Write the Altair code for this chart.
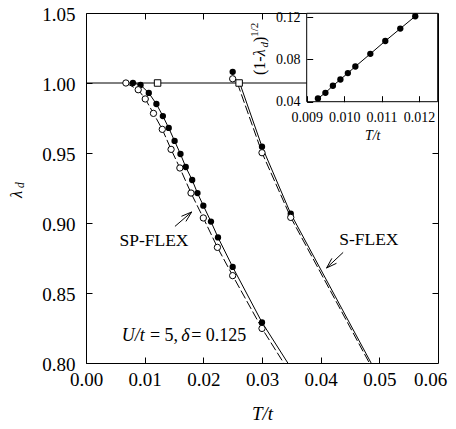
import altair as alt
import pandas as pd

FONT = "Liberation Serif"

# ---------------- data ----------------
# SP-FLEX, filled circles
sp_filled_T = [0.0080, 0.0093, 0.0107, 0.0120, 0.0131, 0.0141, 0.0151, 0.0161,
               0.0170, 0.0181, 0.0190, 0.0200, 0.0213, 0.0225, 0.0250, 0.0300]
sp_filled_L = [1.000, 0.9986, 0.9929, 0.9850, 0.9764, 0.9679, 0.9586, 0.9493,
               0.9400, 0.9307, 0.9214, 0.9124, 0.9010, 0.8897, 0.8686, 0.8290]
# SP-FLEX, open circles
sp_open_T = [0.0068, 0.0089, 0.0101, 0.0115, 0.0130, 0.0145, 0.0160, 0.0179,
             0.0200, 0.0224, 0.0250, 0.0300]
sp_open_L = [1.000, 0.9952, 0.9886, 0.9783, 0.9669, 0.9526, 0.9393, 0.9214,
             0.9036, 0.8826, 0.8624, 0.8247]
# S-FLEX points
s_filled_T = [0.0250, 0.0300, 0.0349]
s_filled_L = [1.008, 0.9545, 0.9066]
s_open_T = [0.0250, 0.0300, 0.0349]
s_open_L = [1.003, 0.9502, 0.9040]
# open squares on lambda = 1
square_T = [0.0122, 0.0261]
square_L = [1.000, 1.000]

# curves (solid through filled, dashed through open)
line_h_T = [0.0, 0.040]
line_h_L = [1.0, 1.0]
sp_solid_T = sp_filled_T + [0.0344]
sp_solid_L = sp_filled_L + [0.800]
sp_dash_T = sp_open_T + [0.0337]
sp_dash_L = sp_open_L + [0.800]
s_solid_T = [0.0262, 0.0300, 0.0349, 0.0486]
s_solid_L = [1.000, 0.9545, 0.9066, 0.800]
s_dash_T = [0.0258, 0.0300, 0.0349, 0.0483]
s_dash_L = [1.000, 0.9502, 0.9040, 0.800]

# inset: (1 - lambda_d)^(1/2) vs T/t
inset_T = [0.0093, 0.0095, 0.0097, 0.0099, 0.0101, 0.0103, 0.0107, 0.0111, 0.0115, 0.0119]
inset_Y = [0.0431, 0.0484, 0.0551, 0.0610, 0.0671, 0.0733, 0.0853, 0.0975, 0.1092, 0.1209]

# axes
x_domain = [0.0, 0.06]
y_domain = [0.80, 1.05]
x_ticks = [0.00, 0.01, 0.02, 0.03, 0.04, 0.05]
x_last_tick = [0.06]
y_ticks = [0.80, 0.85, 0.90, 0.95, 1.00, 1.05]
x_top_ticks = [0.01, 0.02, 0.03]
y_right_ticks = [0.85, 0.90, 0.95]
ix_domain = [0.009, 0.0125]
iy_domain = [0.040, 0.1237]
ix_ticks = [0.009, 0.010, 0.011, 0.012]
iy_ticks = [0.04, 0.08, 0.12]

# annotations (data coordinates)
labels_text = ["SP-FLEX", "S-FLEX"]
labels_T = [0.01158, 0.04821]
labels_L = [0.8874, 0.8881]
# arrows: shaft and two head strokes  (T1, L1) -> (T2, L2)
arrow_T1 = [0.015162, 0.018007, 0.018007, 0.043833, 0.041005, 0.041005]
arrow_L1 = [0.89757, 0.90786, 0.90786, 0.87900, 0.86786, 0.86786]
arrow_T2 = [0.018007, 0.016269, 0.017036, 0.041005, 0.042692, 0.041908]
arrow_L2 = [0.90786, 0.904786, 0.901143, 0.86786, 0.871214, 0.874714]

W, H = 352, 350
OX, OY = 86, 13          # page position of the plot area (for title glyph placement)

# ---------------- frames ----------------
pts = lambda T, L: pd.DataFrame({"T": T, "L": L})
solid_df = pd.concat([
    pd.DataFrame({"T": line_h_T, "L": line_h_L, "s": "h"}),
    pd.DataFrame({"T": sp_solid_T, "L": sp_solid_L, "s": "sp"}),
    pd.DataFrame({"T": s_solid_T, "L": s_solid_L, "s": "s"}),
])
dash_df = pd.concat([
    pd.DataFrame({"T": sp_dash_T, "L": sp_dash_L, "s": "sp"}),
    pd.DataFrame({"T": s_dash_T, "L": s_dash_L, "s": "s"}),
])
filled_df = pts(sp_filled_T + s_filled_T, sp_filled_L + s_filled_L)
open_df = pts(sp_open_T + s_open_T, sp_open_L + s_open_L)
square_df = pts(square_T, square_L)
arrow_df = pd.DataFrame({"T1": arrow_T1, "L1": arrow_L1, "T2": arrow_T2, "L2": arrow_L2})
label_df = pd.DataFrame({"t": labels_text, "T": labels_T, "L": labels_L})


def xs():
    return alt.Scale(domain=x_domain, nice=False, zero=False)


def ys():
    return alt.Scale(domain=y_domain, nice=False, zero=False)


def MX(field, axis=None):
    return alt.X(field, type="quantitative", scale=xs(), axis=axis)


def MY(field, axis=None):
    return alt.Y(field, type="quantitative", scale=ys(), axis=axis)


common_axis = dict(domain=False, grid=False, tickSize=6, tickColor="black", tickWidth=1,
                   labelFont=FONT, labelColor="black", labelFlush=False, labelOverlap=False)

ax_bottom = alt.Axis(orient="bottom", values=x_ticks, format=".2f", offset=-6,
                     labelFontSize=19, labelPadding=7, title="T/t", titleFont=FONT,
                     titleFontSize=19, titleFontStyle="italic", titleFontWeight="normal",
                     titleColor="black", titlePadding=15, titleX=W / 2, **common_axis)
# last bottom label kept inside the page edge
ax_bottom_last = alt.Axis(orient="bottom", values=x_last_tick, format=".2f", offset=-6,
                          labelFontSize=19, labelPadding=13, labelOffset=-8, ticks=False,
                          title=None, **common_axis)
ax_left = alt.Axis(orient="left", values=y_ticks, format=".2f", offset=-6, labelOffset=1.5,
                   labelFontSize=19, labelPadding=11, title=None, **common_axis)
ax_top = alt.Axis(orient="top", values=x_top_ticks, offset=-6, labels=False, title=None,
                  **common_axis)
ax_right = alt.Axis(orient="right", values=y_right_ticks, offset=-6, labels=False, title=None,
                    **common_axis)

solid = alt.Chart(solid_df).mark_line(color="black", strokeWidth=1, clip=True).encode(
    x=MX("T", ax_bottom), y=MY("L", ax_left), detail="s:N")
dashed = alt.Chart(dash_df).mark_line(color="black", strokeWidth=1, strokeDash=[9, 3], clip=True).encode(
    x=MX("T", ax_top), y=MY("L", ax_right), detail="s:N")
filled = alt.Chart(filled_df).mark_circle(color="black", size=40, opacity=1).encode(
    x=MX("T", ax_bottom_last), y=MY("L"))
opened = alt.Chart(open_df).mark_circle(fill="white", stroke="black", strokeWidth=1, size=40, opacity=1).encode(
    x=MX("T"), y=MY("L"))
squares = alt.Chart(square_df).mark_square(fill="white", stroke="black", strokeWidth=1, size=42, opacity=1).encode(
    x=MX("T"), y=MY("L"))
arrows = alt.Chart(arrow_df).mark_rule(color="black", strokeWidth=1).encode(
    x=MX("T1"), y=MY("L1"), x2="T2:Q", y2="L2:Q")
labels = alt.Chart(label_df).mark_text(font=FONT, fontSize=17.5, color="black", align="center",
                                       baseline="middle").encode(x=MX("T"), y=MY("L"), text="t:N")

# "U/t = 5, delta = 0.125" with italic symbols
note_T, note_L = 0.00608, 0.819
note_pieces = [("U/t", 0.0, "italic"), ("= 5,", 28.3, "normal"),
               ("δ", 59.5, "italic"), ("= 0.125", 69.5, "normal")]
notes = []
for txt, dx, style in note_pieces:
    notes.append(alt.Chart(pd.DataFrame({"t": [txt], "T": [note_T], "L": [note_L]})).mark_text(
        font=FONT, fontSize=18, fontStyle=style, color="black", align="left",
        baseline="middle", dx=dx).encode(x=MX("T"), y=MY("L"), text="t:N"))


# axis titles with sub/superscripts (glyph pieces, rotated)
def rot_text(t, px, py, size, style):
    return alt.Chart(pd.DataFrame({"t": [t]})).mark_text(
        font=FONT, fontSize=size, fontStyle=style, color="black", angle=270,
        align="left", baseline="alphabetic").encode(
        x=alt.value(px - OX), y=alt.value(py - OY), text="t:N")


ytitle = [
    rot_text("λ", 22.0, 198, 16.5, "italic"),
    rot_text("d", 24.0, 188, 11.5, "italic"),
]
ititle = [
    rot_text("(1-", 265, 75, 16, "normal"),
    rot_text("λ", 265, 56.3, 16, "italic"),
    rot_text("d", 268, 47.5, 11, "italic"),
    rot_text(")", 265, 42, 16, "normal"),
    rot_text("1/2", 258, 36.7, 11, "normal"),
]

# ---------------- inset ----------------
IX0, IX1, IY0, IY1 = 306.7, 437.7, 13.3, 101.7   # page pixels of the inset frame


def ixs():
    return alt.Scale(domain=ix_domain, range=[IX0 - OX, IX1 - OX], nice=False, zero=False)


def iys():
    return alt.Scale(domain=iy_domain, range=[IY1 - OY, IY0 - OY], nice=False, zero=False)


ax_ix = alt.Axis(orient="bottom", values=ix_ticks, format=".3f", offset=(IY1 - OY - 6) - H,
                 labelFontSize=14, labelPadding=9, title="T/t", titleFont=FONT, titleFontSize=14,
                 titleFontStyle="italic", titleFontWeight="normal", titleColor="black",
                 titlePadding=4, zindex=2, **common_axis)
ax_iy = alt.Axis(orient="left", values=iy_ticks, format=".2f", offset=-(IX0 - OX + 6),
                 labelFontSize=14, labelPadding=6.7, title=None, zindex=2, **common_axis)

inset_box = pd.DataFrame({"x0": [ix_domain[0]], "x1": [ix_domain[1]],
                          "y0": [iy_domain[0]], "y1": [iy_domain[1]]})
ibox = alt.Chart(inset_box).mark_rect(fill="white", stroke="black", strokeWidth=1).encode(
    x=alt.X("x0:Q", scale=ixs(), axis=ax_ix), x2="x1:Q",
    y=alt.Y("y0:Q", scale=iys(), axis=ax_iy), y2="y1:Q")
idf = pd.DataFrame({"T": inset_T, "Y": inset_Y})
iline = alt.Chart(idf).mark_line(color="black", strokeWidth=1).encode(
    x=alt.X("T:Q", scale=ixs(), axis=None), y=alt.Y("Y:Q", scale=iys(), axis=None))
ipts = alt.Chart(idf).mark_circle(color="black", size=40, opacity=1).encode(
    x=alt.X("T:Q", scale=ixs(), axis=None), y=alt.Y("Y:Q", scale=iys(), axis=None))

chart = alt.layer(
    solid, dashed, filled, opened, squares, arrows, labels, *notes, *ytitle,
    ibox, iline, ipts, *ititle,
).resolve_scale(x="independent", y="independent").properties(
    width=W, height=H,
    padding={"left": OX - 8, "top": OY - 8, "right": 10, "bottom": 60},
    autosize=alt.AutoSizeParams(type="none"),
    background="white",
).configure_view(stroke="black", strokeWidth=1)

chart.save("out.html", embed_options={"renderer": "svg", "actions": False})
